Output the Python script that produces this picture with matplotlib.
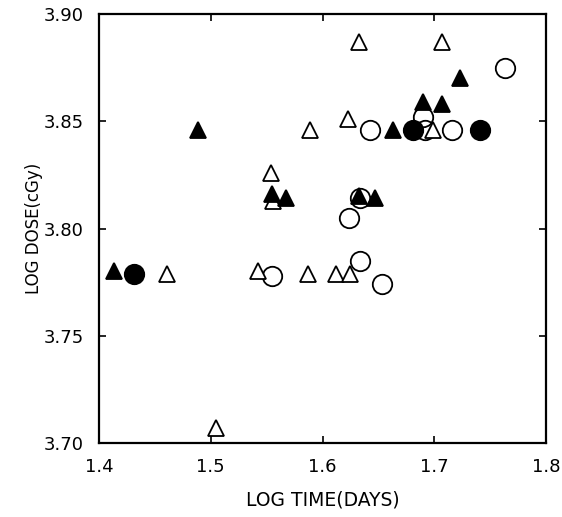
import matplotlib
matplotlib.use("Agg")
import matplotlib.pyplot as plt
from matplotlib.ticker import FixedLocator

plt.rcParams['font.family'] = ['DejaVu Sans']

# log time (days) and log dose (cGy) for each group
open_tri_x = [1.633, 1.707, 1.589, 1.623, 1.554, 1.556, 1.699, 1.461, 1.542, 1.587, 1.612, 1.625, 1.505]
open_tri_y = [3.887, 3.887, 3.846, 3.851, 3.826, 3.813, 3.846, 3.779, 3.780, 3.779, 3.779, 3.779, 3.707]

filled_tri_x = [1.489, 1.555, 1.567, 1.723, 1.690, 1.707, 1.663, 1.647, 1.633, 1.413]
filled_tri_y = [3.846, 3.816, 3.814, 3.870, 3.859, 3.858, 3.846, 3.814, 3.815, 3.780]

open_circ_x = [1.763, 1.690, 1.6425, 1.692, 1.7155, 1.634, 1.624, 1.634, 1.653, 1.5545]
open_circ_y = [3.875, 3.852, 3.846, 3.846, 3.846, 3.814, 3.805, 3.785, 3.774, 3.778]

filled_circ_x = [1.681, 1.741, 1.431]
filled_circ_y = [3.846, 3.846, 3.779]

x_ticks = [1.4, 1.5, 1.6, 1.7, 1.8]
x_tick_labels = ["1.4", "1.5", "1.6", "1.7", "1.8"]
y_ticks = [3.70, 3.75, 3.80, 3.85, 3.90]
y_tick_labels = ["3.70", "3.75", "3.80", "3.85", "3.90"]

fig = plt.figure(figsize=(5.62, 5.17), dpi=100)
ax = fig.add_axes([0.1762, 0.1431, 0.7953, 0.8298])

tri_size = 11
circ_size = 14
ew = 1.3

ax.plot(open_circ_x, open_circ_y, linestyle='none', marker='o', markersize=circ_size,
        markerfacecolor='none', markeredgecolor='black', markeredgewidth=ew, zorder=3)
ax.plot(filled_circ_x, filled_circ_y, linestyle='none', marker='o', markersize=circ_size,
        markerfacecolor='black', markeredgecolor='black', markeredgewidth=ew, zorder=3)
ax.plot(open_tri_x, open_tri_y, linestyle='none', marker='^', markersize=tri_size,
        markerfacecolor='white', markeredgecolor='black', markeredgewidth=ew, zorder=4)
ax.plot(filled_tri_x, filled_tri_y, linestyle='none', marker='^', markersize=tri_size,
        markerfacecolor='black', markeredgecolor='black', markeredgewidth=ew, zorder=5)

ax.set_xlim(1.4, 1.8)
ax.set_ylim(3.70, 3.90)
ax.xaxis.set_major_locator(FixedLocator(x_ticks))
ax.yaxis.set_major_locator(FixedLocator(y_ticks))
ax.set_xticklabels(x_tick_labels)
ax.set_yticklabels(y_tick_labels)

ax.tick_params(direction='in', length=5, width=1.2, top=True, right=True,
               labelsize=13)
ax.tick_params(axis='x', pad=11)
ax.tick_params(axis='y', pad=11)
for sp in ax.spines.values():
    sp.set_linewidth(1.6)

ax.set_xlabel("LOG TIME(DAYS)", fontsize=13.5)
ax.set_ylabel("LOG DOSE(cGy)", fontsize=12)
# place the axis titles relative to the axes box
ax.xaxis.set_label_coords(0.5, -47 / 429, transform=ax.transAxes)
ax.yaxis.set_label_coords(-56 / 447, 0.5, transform=ax.transAxes)

fig.savefig("out.png", dpi=100)
